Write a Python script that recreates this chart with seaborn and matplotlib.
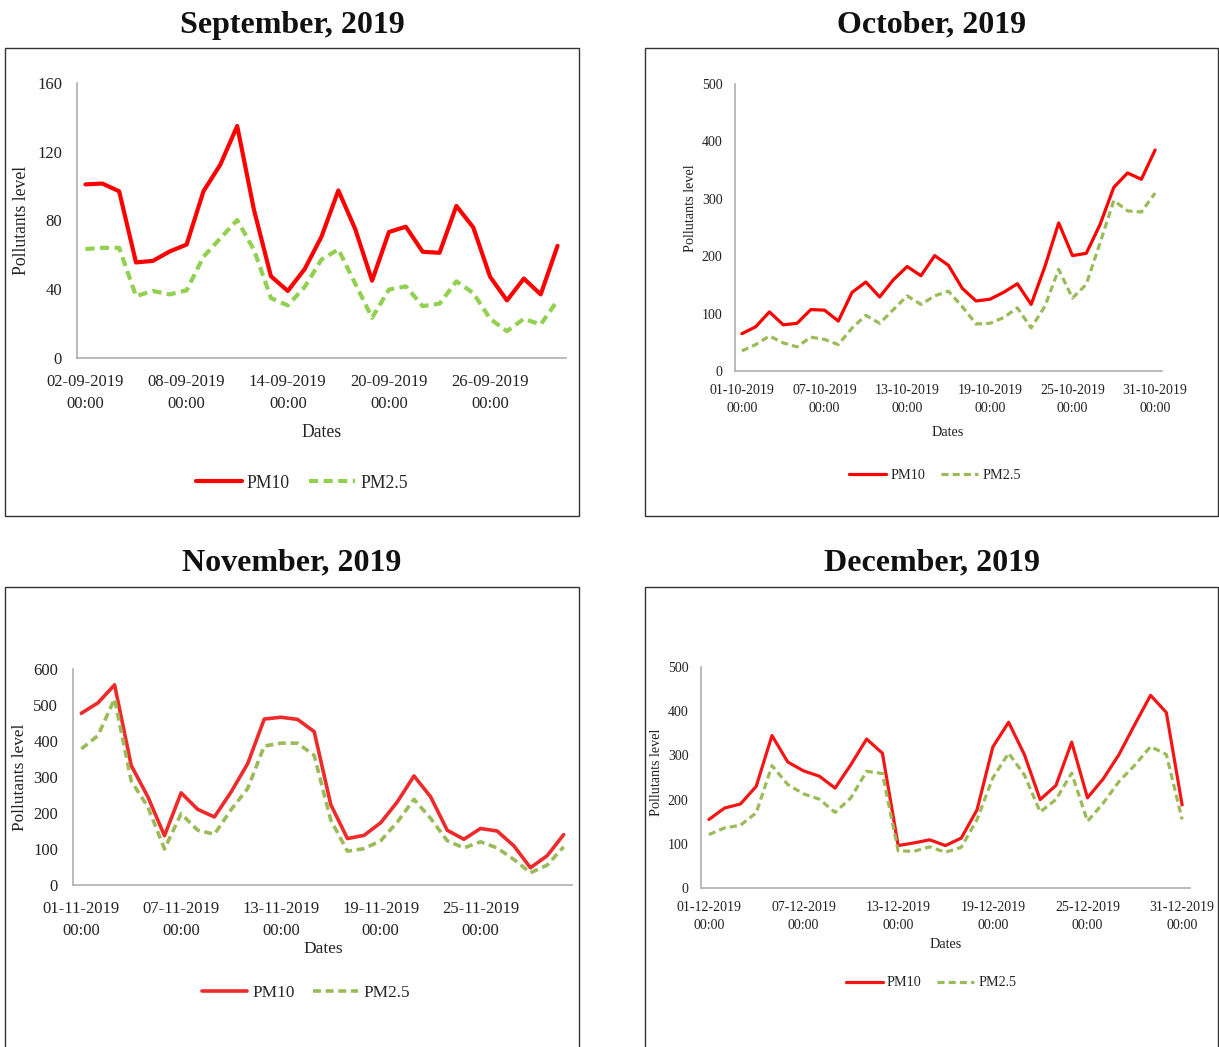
import pandas as pd
import matplotlib.pyplot as plt
import seaborn as sns
from matplotlib.patches import Rectangle

# daily values
sep_pm10 = [101, 101.5, 97, 55.6, 56.5, 62, 66, 97, 112.5, 135, 86, 47.6, 39, 51.7, 70.6,
            97.5, 75, 45, 73.3, 76.4, 61.8, 61.2, 88.5, 76, 47.2, 33.5, 46.2, 37, 65.3]
sep_pm25 = [63.4, 64.1, 64.1, 36, 39, 37, 39.4, 58.9, 69.6, 80.3, 62.8, 34.9, 30.6, 41.3, 57.3,
            63.2, 43.3, 23.4, 39.8, 41.7, 30.2, 31.6, 44.6, 37.8, 22.8, 15.6, 22.8, 19.5, 33.5]

oct_pm10 = [65, 77, 103, 80.5, 83, 107, 106, 87, 137, 155, 129, 159, 182, 166, 201, 184,
            144, 122, 125, 137, 152, 116, 182, 258, 201, 205, 255, 320, 345, 334, 385]
oct_pm25 = [35, 46, 61, 49, 42, 59, 55, 46, 75, 97, 83, 107, 131, 116, 131, 139,
            112, 82, 83, 93, 110, 75, 113, 177, 127, 151, 223, 297, 279, 277, 310]

nov_pm10 = [477, 506, 556, 332, 245, 137, 256, 210, 189, 258, 337, 461, 466, 460, 426,
            223, 129, 138, 173, 231, 303, 245, 152, 127, 157, 150, 109, 48, 81, 140]
nov_pm25 = [378, 415, 517, 289, 217, 100, 198, 152, 141, 209, 268, 386, 394, 394, 360,
            180, 94, 101, 123, 175, 238, 185, 123, 103, 120, 103, 71, 34, 55, 106]

dec_pm10 = [155, 181, 190, 230, 345, 285, 265, 253, 226, 279, 337, 305, 96, 102, 109, 96,
            113, 177, 319, 375, 302, 200, 232, 330, 204, 247, 302, 370, 436, 397, 188]
dec_pm25 = [121, 136, 142, 170, 277, 234, 213, 201, 171, 204, 264, 259, 84, 83, 93, 81,
            92, 155, 249, 305, 256, 172, 200, 260, 151, 192, 241, 278, 320, 302, 155]

months = [
    ("September, 2019", "2019-09-02", sep_pm10, sep_pm25, 160, 40),
    ("October, 2019", "2019-10-01", oct_pm10, oct_pm25, 500, 100),
    ("November, 2019", "2019-11-01", nov_pm10, nov_pm25, 600, 100),
    ("December, 2019", "2019-12-01", dec_pm10, dec_pm25, 500, 100),
]

W, H = 1219, 1047

sns.set_theme(style="white")
plt.rcParams['font.family'] = ['Liberation Serif', 'DejaVu Serif']

fig = plt.figure(figsize=(W / 100, H / 100), dpi=100)


def fx(x):
    return x / W


def fy(y):
    return 1 - y / H


# layout per panel (pixels): box, axes, title, ylabel, xlabel, legend, font sizes, colours
layout = [
    dict(box=(5, 48, 579, 516), ax=(77, 83, 566, 358), title=(292, 25), ylab=(22, 220),
         xlab=(322, 432), leg=(302, 483), tick=12, lab=12.7, lw=3.0,
         red="#FF0000", green="#92D050"),
    dict(box=(645, 48, 1218, 516), ax=(735, 84, 1162, 371), title=(932, 25), ylab=(690, 208),
         xlab=(948, 432), leg=(935, 475), tick=10, lab=10.3, lw=2.3,
         red="#FF0000", green="#9BBB59"),
    dict(box=(5, 587, 579, 1050), ax=(73, 669, 572, 885), title=(292, 563), ylab=(20, 777),
         xlab=(323, 949), leg=(306, 993), tick=12, lab=12.4, lw=2.6,
         red="#EE2A2A", green="#9BBB59"),
    dict(box=(645, 587, 1218, 1050), ax=(701, 667, 1190, 888), title=(932, 563), ylab=(657, 772),
         xlab=(946, 944), leg=(931, 983), tick=10, lab=10.2, lw=2.3,
         red="#F51515", green="#9BBB59"),
]

for (title, start, pm10, pm25, ymax, ystep), lay in zip(months, layout):
    n = len(pm10)
    dates = pd.date_range(start, periods=n, freq="D")
    df = pd.DataFrame({
        "idx": list(range(n)) * 2,
        "value": pm10 + pm25,
        "Pollutant": ["PM10"] * n + ["PM2.5"] * n,
    })

    bx0, by0, bx1, by1 = lay["box"]
    fig.patches.append(Rectangle((fx(bx0), fy(by1)), fx(bx1 - bx0), (by1 - by0) / H,
                                 transform=fig.transFigure, fill=False,
                                 edgecolor="#333333", linewidth=1.0))

    x0, y0, x1, y1 = lay["ax"]
    ax = fig.add_axes([fx(x0), fy(y1), fx(x1 - x0), (y1 - y0) / H])
    sns.lineplot(data=df, x="idx", y="value", hue="Pollutant", style="Pollutant",
                 palette={"PM10": lay["red"], "PM2.5": lay["green"]},
                 dashes={"PM10": "", "PM2.5": (2.2, 1.3)},
                 linewidth=lay["lw"], legend=False, ax=ax)

    ax.set_xlim(-0.5, n - 0.5)
    ax.set_ylim(0, ymax)
    ax.set_yticks(range(0, ymax + 1, ystep))
    ticks = list(range(0, n, 6))
    ax.set_xticks(ticks)
    ax.set_xticklabels([dates[i].strftime("%d-%m-%Y") + "\n00:00" for i in ticks],
                       linespacing=1.5)
    ax.tick_params(axis="both", length=0, labelsize=lay["tick"], colors="#222222")
    ax.tick_params(axis="x", pad=lay["tick"] * 0.95)
    ax.tick_params(axis="y", pad=lay["tick"] * 0.9)
    ax.set_xlabel("")
    ax.set_ylabel("")
    for side in ["top", "right"]:
        ax.spines[side].set_visible(False)
    for side in ["left", "bottom"]:
        ax.spines[side].set_color("#AFAFAF")
        ax.spines[side].set_linewidth(1.2)

    fig.text(fx(lay["title"][0]), fy(lay["title"][1]), title, ha="center", va="center",
             fontsize=23, fontweight="bold", color="#111111")
    fig.text(fx(lay["ylab"][0]), fy(lay["ylab"][1]), "Pollutants level", rotation=90,
             ha="center", va="center", fontsize=lay["lab"], color="#222222")
    fig.text(fx(lay["xlab"][0]), fy(lay["xlab"][1]), "Dates", ha="center", va="center",
             fontsize=lay["lab"], color="#222222")

    handles = ax.get_lines()[:2]
    fig.legend(handles, ["PM10", "PM2.5"], loc="center",
               bbox_to_anchor=(fx(lay["leg"][0]), fy(lay["leg"][1])),
               bbox_transform=fig.transFigure, ncol=2, frameon=False,
               fontsize=lay["lab"], handlelength=2.6, handletextpad=0.3,
               columnspacing=1.1)

fig.savefig("out.png", dpi=100)
